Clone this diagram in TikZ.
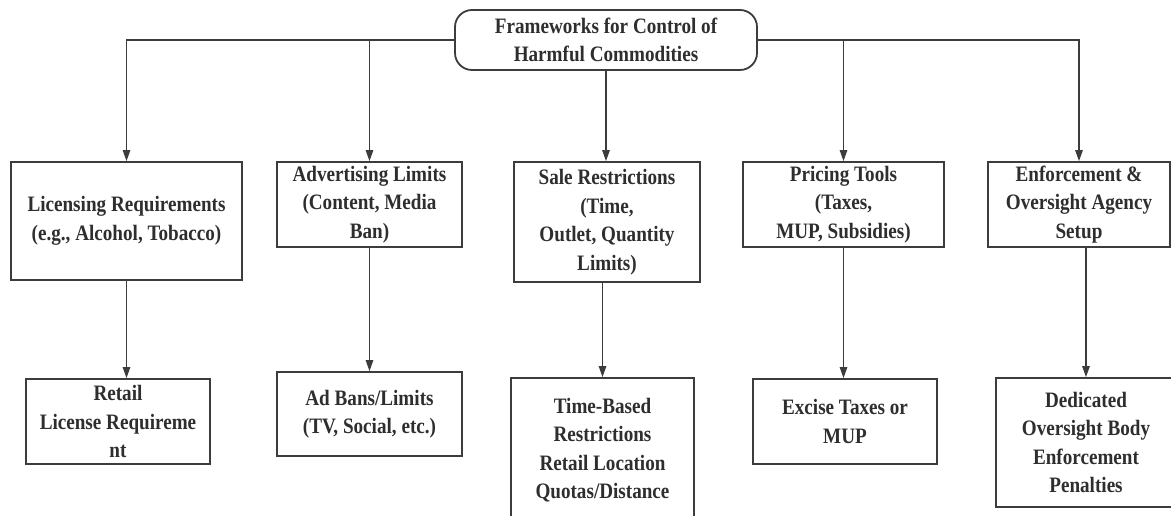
\documentclass[tikz,border=0pt]{standalone}
\usepackage{fontspec}
\setmainfont{Liberation Serif}[FakeStretch=0.87]
\usetikzlibrary{arrows.meta}
\definecolor{ink}{HTML}{3C3C3C}
\definecolor{txt}{HTML}{2E2E2E}
\tikzset{
  box/.style={draw=ink, line width=1.8pt, fill=white, text=txt,
    font=\fontsize{22}{28.5}\selectfont\bfseries, align=center, inner sep=0pt},
  arr/.style={draw=ink, line width=1.3pt, -{Triangle[length=11pt,width=7.5pt]}},
}
\begin{document}
\begin{tikzpicture}[x=1pt,y=1pt]
\useasboundingbox (0,0) rectangle (1171,516);
\clip (0,0) rectangle (1171,516);
% root
\node[box, rounded corners=17pt, minimum width=302pt, minimum height=60pt] (root) at (606,476)
  {Frameworks for Control of\\Harmful Commodities};
% first row
\node[box, minimum width=231pt, minimum height=118pt] (lic) at (126.5,295)
  {Licensing Requirements\\(e.g., Alcohol, Tobacco)};
\node[box, minimum width=185pt, minimum height=85pt] (adv) at (369.5,311.5)
  {Advertising Limits\\(Content, Media\\Ban)};
\node[box, minimum width=186pt, minimum height=120pt] (sale) at (607,294)
  {Sale Restrictions\\(Time,\\Outlet, Quantity\\Limits)};
\node[box, minimum width=201pt, minimum height=85pt] (pri) at (843.5,311.5)
  {Pricing Tools\\(Taxes,\\MUP, Subsidies)};
\node[box, minimum width=182pt, minimum height=85pt] (enf) at (1079,311.5)
  {Enforcement \&\\Oversight Agency\\Setup};
% second row
\node[box, minimum width=184pt, minimum height=85pt] (retail) at (118,94.5)
  {Retail\\License Requireme\\nt};
\node[box, minimum width=185pt, minimum height=84pt] (adbans) at (369.5,102)
  {Ad Bans/Limits\\(TV, Social, etc.)};
\node[box, minimum width=183pt, minimum height=144pt] (time) at (602.5,66)
  {Time-Based\\Restrictions\\Retail Location\\Quotas/Distance};
\node[box, minimum width=184pt, minimum height=85pt] (excise) at (845,94.5)
  {Excise Taxes or\\MUP};
\node[box, minimum width=180pt, minimum height=129pt] (ded) at (1086,73.5)
  {Dedicated\\Oversight Body\\Enforcement\\Penalties};
% connectors from root
\draw[arr] (root.west) -| (lic.north);
\draw[arr] (root.west -| adv.north) -- (adv.north);
\draw[arr] (root.east) -| (enf.north);
\draw[arr] (root.east -| pri.north) -- (pri.north);
\draw[arr] (root.south) -- (root.south |- sale.north);
% connectors to second row
\draw[arr] (lic.south) -- (lic.south |- retail.north);
\draw[arr] (adv.south) -- (adbans.north);
\draw[arr] (sale.south -| time.north) -- (time.north);
\draw[arr] (pri.south) -- (pri.south |- excise.north);
\draw[arr] (enf.south -| ded.north) -- (ded.north);
\end{tikzpicture}
\end{document}
